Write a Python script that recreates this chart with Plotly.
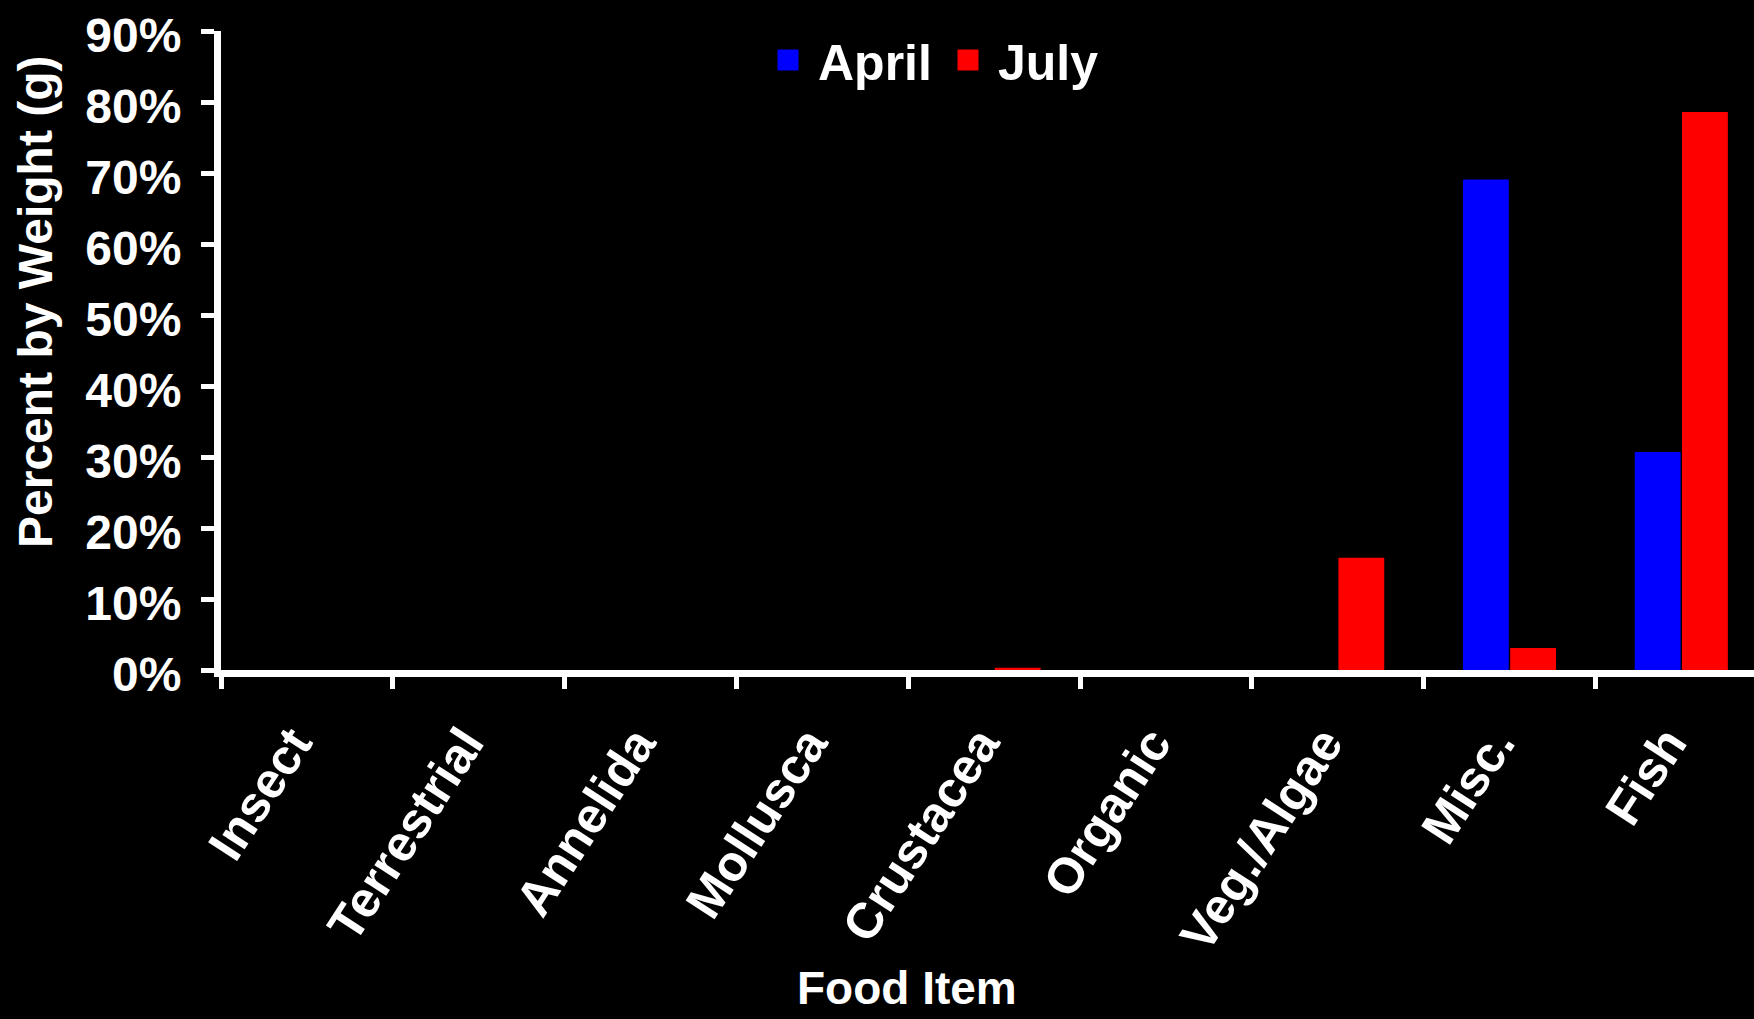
import plotly.graph_objects as go

categories = ["Insect", "Terrestrial", "Annelida", "Mollusca", "Crustacea",
              "Organic", "Veg./Algae", "Misc.", "Fish"]
april = [0, 0, 0, 0, 0, 0, 0, 69.1, 30.7]
july = [0, 0, 0, 0, 0.3, 0, 15.8, 3.1, 78.6]
series_names = ["April", "July"]
series_colors = ["#0000FF", "#FF0000"]
y_ticks = [0, 10, 20, 30, 40, 50, 60, 70, 80, 90]
y_tick_labels = [f"{v}%" for v in y_ticks]

FONT = "Liberation Sans, Arial, sans-serif"
W, H = 1754, 1019
ML, MT, MB = 221, 31, 349
CAT_W = 171.8

fig = go.Figure()
for name, vals, col in zip(series_names, [april, july], series_colors):
    fig.add_trace(go.Bar(x=categories, y=vals, name=name, marker_color=col,
                         marker_line_width=0, showlegend=False, legendgroup=name))
    # legend proxy
    fig.add_trace(go.Scatter(x=[None], y=[None], mode="markers", name="\u2009" + name,
                             legendgroup=name,
                             marker=dict(symbol="square", size=16, color=col,
                                         line=dict(color=col, width=5))))

pw = W - ML
fig.update_layout(
    width=W, height=H,
    margin=dict(l=ML, r=0, t=MT, b=MB, pad=0),
    paper_bgcolor="black", plot_bgcolor="black",
    barmode="group", bargap=0.45, bargroupgap=0.03,
    font=dict(family=FONT, color="white", size=46, weight="bold"),
    legend=dict(orientation="h", x=(768 - ML) / pw, xanchor="left",
                y=(670 - 60) / 639, yanchor="middle",
                entrywidth=135, entrywidthmode="pixels",
                bgcolor="rgba(0,0,0,0)",
                font=dict(family=FONT, size=50, color="white", weight="bold")),
    xaxis=dict(type="category", range=[-0.5, -0.5 + pw / CAT_W],
               showgrid=False, zeroline=False,
               showline=True, linecolor="white", linewidth=7,
               ticks="outside", tickson="boundaries", ticklen=12, tickwidth=5,
               tickcolor="white", tickangle=-57, ticklabelstandoff=17,
               ticklabelshift=-14,
               tickfont=dict(family=FONT, size=50, color="white", weight="bold")),
    yaxis=dict(range=[0, 90], tickvals=y_ticks, ticktext=y_tick_labels,
               showgrid=False, zeroline=False,
               showline=True, linecolor="white", linewidth=7,
               ticks="outside", ticklen=13, tickwidth=5, tickcolor="white",
               ticklabelstandoff=10, ticklabelshift=4,
               tickfont=dict(family=FONT, size=48, color="white", weight="bold")),
    annotations=[
        dict(text="Percent by Weight (g)", textangle=-90, showarrow=False,
             xref="paper", yref="paper",
             x=(35 - ML) / pw, y=(670 - 302) / 639, xanchor="center", yanchor="middle",
             font=dict(family=FONT, size=48, color="white", weight="bold")),
        dict(text="Food Item", showarrow=False,
             xref="paper", yref="paper",
             x=(907 - ML) / pw, y=(670 - 988) / 639, xanchor="center", yanchor="middle",
             font=dict(family=FONT, size=46, color="white", weight="bold")),
    ],
)

fig.write_html("out.html")
